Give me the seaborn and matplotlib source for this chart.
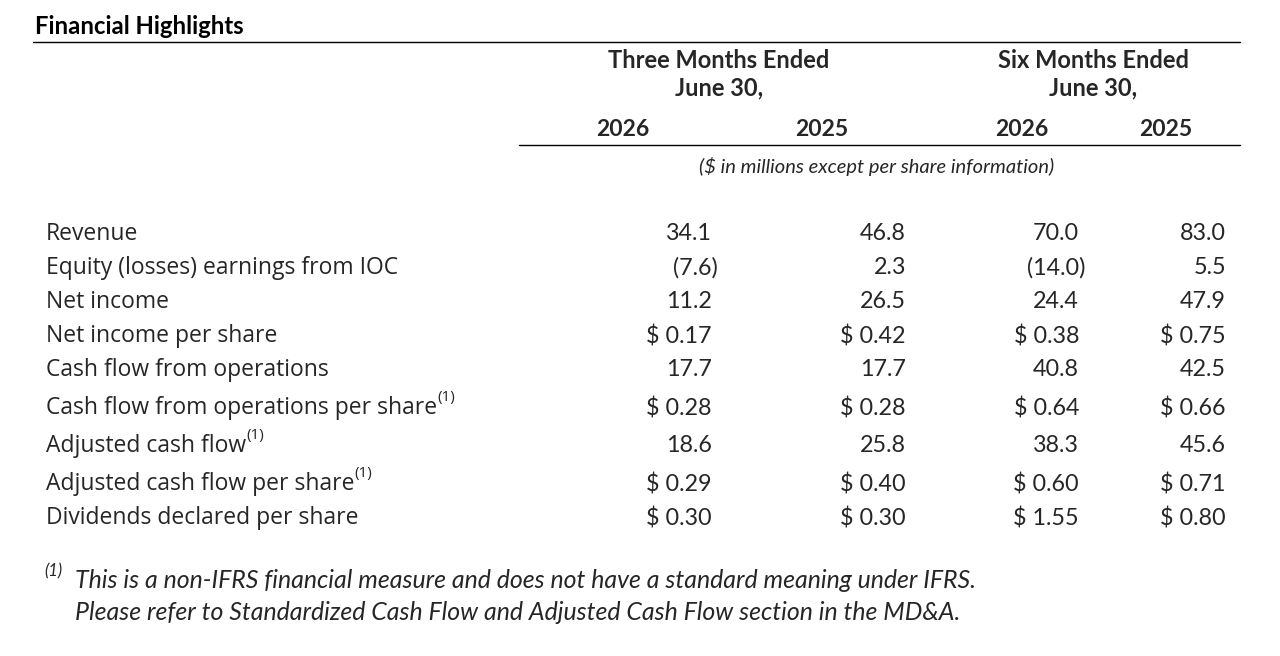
import matplotlib
matplotlib.use("Agg")
import matplotlib.pyplot as plt
import seaborn as sns

# table data
title = "Financial Highlights"
group_labels = [["Three Months Ended", "June 30,"], ["Six Months Ended", "June 30,"]]
year_labels = ["2026", "2025", "2026", "2025"]
units_note = "($ in millions except per share information)"
row_labels = [
    "Revenue",
    "Equity (losses) earnings from IOC",
    "Net income",
    "Net income per share",
    "Cash flow from operations",
    "Cash flow from operations per share",
    "Adjusted cash flow",
    "Adjusted cash flow per share",
    "Dividends declared per share",
]
q_2026 = [34.1, -7.6, 11.2, 0.17, 17.7, 0.28, 18.6, 0.29, 0.30]
q_2025 = [46.8, 2.3, 26.5, 0.42, 17.7, 0.28, 25.8, 0.40, 0.30]
ytd_2026 = [70.0, -14.0, 24.4, 0.38, 40.8, 0.64, 38.3, 0.60, 1.55]
ytd_2025 = [83.0, 5.5, 47.9, 0.75, 42.5, 0.66, 45.6, 0.71, 0.80]
per_share = [False, False, False, True, False, True, False, True, True]
footnoted = [False, False, False, False, False, True, True, True, False]
footnote_lines = [
    "This is a non-IFRS financial measure and does not have a standard meaning under IFRS.",
    "Please refer to Standardized Cash Flow and Adjusted Cash Flow section in the MD&A.",
]

sns.set_theme(style="white")
plt.rcParams["font.family"] = ["Lato", "DejaVu Sans"]

num_font = ["Lato", "DejaVu Sans"]
label_font = ["Open Sans", "DejaVu Sans"]


def fmt(v, money):
    if money:
        return f"$ {v:.2f}"
    if v < 0:
        return f"({abs(v):.1f})"
    return f"{v:.1f}"


fig = plt.figure(figsize=(12.8, 6.56), dpi=100)
ax = fig.add_axes([0, 0, 1, 1])
ax.set_xlim(0, 1280)
ax.set_ylim(656, 0)
ax.axis("off")

# title and rules
ax.text(35, 27, title, fontsize=17.2, fontweight="bold", family=num_font,
        ha="left", va="center", color="black")
ax.plot([33, 1240], [42, 42], color="black", lw=1.0)
ax.plot([519, 1240], [145, 145], color="black", lw=1.0)

# column headers
for cx, lines in zip([719, 1093], group_labels):
    for yy, s in zip([61, 88], lines):
        ax.text(cx, yy, s, fontsize=17, fontweight="bold", family=num_font,
                ha="center", va="center")
for cx, yl in zip([623, 822, 1022, 1166], year_labels):
    ax.text(cx, 130, yl, fontsize=16.5, fontweight="bold", family=num_font,
            ha="center", va="center")
ax.text(877, 167, units_note, fontsize=14.5, style="italic", family=num_font,
        ha="center", va="center")

# rows
col_right = [712, 906, 1079, 1226]
columns = [q_2026, q_2025, ytd_2026, ytd_2025]
y = 234
for i, lab in enumerate(row_labels):
    if i > 0:
        y += 34 + (4 if footnoted[i] else 0)
    t = ax.text(46, y, lab, fontsize=16.5, family=label_font,
                ha="left", va="center")
    if footnoted[i]:
        ax.annotate("(1)", xy=(1, 0.62), xycoords=t, fontsize=11,
                    family=label_font, ha="left", va="bottom")
    for xr, col in zip(col_right, columns):
        v = col[i]
        shift = 6 if (v < 0 and not per_share[i]) else 0
        ax.text(xr + shift, y, fmt(v, per_share[i]), fontsize=16.8,
                family=num_font, ha="right", va="center")

# footnote
ax.text(44, 571, "(1)", fontsize=12, style="italic", family=num_font,
        ha="left", va="center")
ax.text(75, 580, footnote_lines[0], fontsize=17.9, style="italic",
        family=num_font, ha="left", va="center")
ax.text(75, 613, footnote_lines[1], fontsize=17.9, style="italic",
        family=num_font, ha="left", va="center")

fig.savefig("out.png", dpi=100, facecolor="white")
